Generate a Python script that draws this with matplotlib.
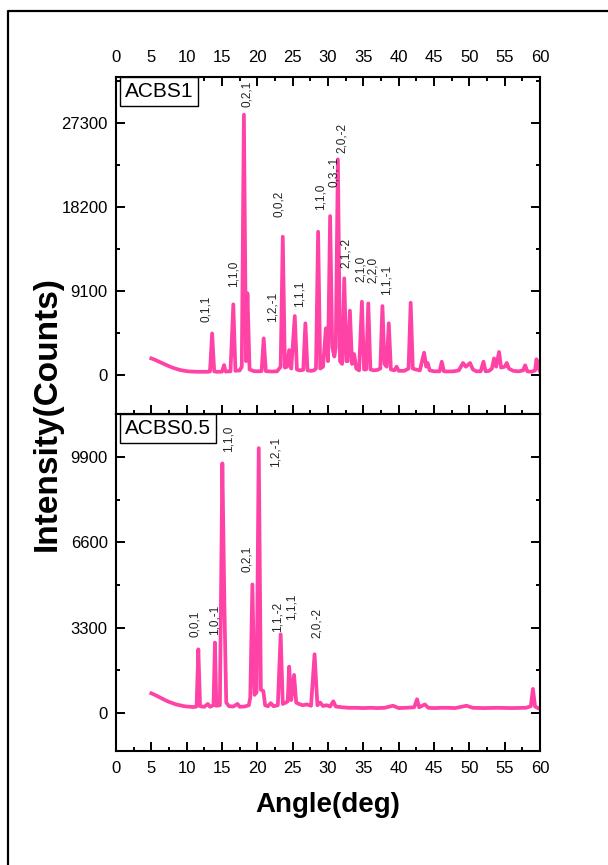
import matplotlib
matplotlib.use("Agg")
import matplotlib.pyplot as plt
from matplotlib.ticker import MultipleLocator
from matplotlib.lines import Line2D

plt.rcParams['font.family'] = ['Liberation Sans', 'DejaVu Sans']

# ---- ACBS1 diffraction trace (2-theta in degrees, counts) ----
acbs1_angle = [
    5.0, 5.5, 6.0, 6.5, 7.0, 7.5, 8.0, 8.5, 9.0, 9.5, 10.0, 10.5, 11.0, 11.5, 12.0, 12.5,
    13.0, 13.3, 13.6, 13.9, 14.3, 15.0, 15.3, 15.5, 16.2, 16.6, 16.9, 17.5, 17.8, 18.1,
    18.4, 18.6, 18.9, 19.5, 20.0, 20.6, 20.9, 21.2, 22.0, 22.8, 23.3, 23.6, 23.9, 24.2,
    24.5, 24.8, 25.3, 25.6, 26.0, 26.5, 26.8, 27.1, 27.6, 28.0, 28.3, 28.6, 28.9, 29.3,
    29.7, 30.0, 30.3, 30.6, 30.9, 31.1, 31.4, 31.7, 32.0, 32.3, 32.6, 32.8, 33.1, 33.4,
    33.7, 34.0, 34.4, 34.8, 35.1, 35.4, 35.7, 36.0, 36.5, 37.0, 37.4, 37.7, 38.0, 38.3,
    38.6, 38.9, 39.4, 39.7, 40.0, 40.8, 41.4, 41.7, 42.0, 42.4, 43.0, 43.6, 43.9, 44.1,
    44.4, 45.0, 45.8, 46.1, 46.4, 47.0, 47.8, 48.5, 49.1, 49.5, 50.1, 50.5, 51.0, 51.6,
    52.0, 52.3, 52.8, 53.2, 53.5, 53.8, 54.2, 54.5, 55.0, 55.3, 55.6, 56.2, 57.0, 57.6,
    57.9, 58.2, 58.8, 59.3, 59.5, 59.8, 60.0]
acbs1_counts = [
    1800, 1650, 1480, 1300, 1120, 950, 800, 670, 560, 480, 420, 380, 360, 350, 350, 340,
    350, 380, 4500, 380, 350, 360, 1080, 380, 400, 7650, 450, 500, 900, 28200,
    1500, 8850, 600, 420, 400, 420, 3970, 420, 380, 400, 900, 14980, 800, 900,
    2700, 700, 6390, 600, 500, 560, 5600, 500, 450, 500, 700, 15520, 700, 900,
    5060, 1500, 17220, 3000, 2000, 3000, 23360, 1500, 1200, 10470, 1500, 1500, 6970, 1200,
    2270, 700, 500, 7940, 600, 600, 7760, 600, 500, 550, 700, 7470, 1200, 900,
    5600, 600, 500, 900, 450, 450, 700, 7830, 700, 600, 500, 2420, 900, 1300,
    500, 400, 400, 1440, 400, 380, 400, 500, 1300, 900, 1300, 600, 400, 400,
    1440, 400, 450, 700, 1800, 900, 2500, 800, 900, 1300, 700, 450, 400, 500,
    1050, 400, 350, 500, 1700, 700, 400]

# ---- ACBS0.5 diffraction trace ----
acbs05_angle = [
    5.0, 5.5, 6.0, 6.5, 7.0, 7.5, 8.0, 8.5, 9.0, 9.5, 10.0, 10.5, 11.0, 11.4, 11.65, 11.9,
    12.5, 13.0, 13.3, 13.8, 14.0, 14.2, 14.7, 15.05, 15.35, 15.6, 16.0, 16.6, 17.2, 17.5,
    18.2, 18.8, 19.0, 19.3, 19.6, 19.9, 20.2, 20.5, 20.85, 21.1, 21.5, 21.9, 22.3, 22.9,
    23.3, 23.6, 24.0, 24.3, 24.5, 24.8, 25.2, 25.5, 25.9, 26.4, 27.0, 27.6, 28.1, 28.5,
    28.9, 29.3, 29.8, 30.3, 30.75, 31.1, 32.0, 33.0, 34.0, 35.0, 36.0, 37.0, 38.0, 39.2,
    40.0, 41.0, 42.2, 42.6, 42.9, 43.7, 44.2, 45.0, 46.0, 47.0, 48.0, 49.6, 50.5, 52.0,
    54.0, 56.0, 58.0, 58.7, 59.0, 59.3, 60.0]
acbs05_counts = [
    760, 700, 630, 560, 490, 430, 380, 330, 300, 270, 250, 240, 230, 250, 2460, 260,
    240, 350, 240, 300, 2720, 280, 300, 9650, 4000, 400, 260, 250, 350, 240,
    250, 300, 600, 4970, 700, 800, 10240, 900, 850, 300, 260, 380, 260, 300,
    3040, 350, 400, 450, 1790, 500, 1470, 400, 350, 300, 330, 280, 2270, 300,
    400, 270, 300, 250, 450, 250, 220, 200, 200, 190, 200, 190, 200, 280,
    190, 200, 220, 530, 220, 330, 200, 190, 200, 200, 190, 280, 200, 190,
    200, 190, 200, 260, 930, 250, 150]

# ---- reflection labels: (text, angle, counts at text base) ----
acbs1_hkl = ["0,1,1", "1,1,0", "0,2,1", "1,2,-1", "0,0,2", "1,1,1",
             "1,1,0", "0,3,-1", "2,0,-2", "2,1,-2", "2,1,0", "2,2,0", "1,1,-1"]
acbs1_hkl_angle = [12.8, 16.7, 18.5, 22.1, 23.0, 26.0,
                   29.0, 30.9, 32.0, 32.6, 34.7, 36.3, 38.3]
acbs1_hkl_counts = [5700, 9500, 29000, 5700, 17100, 7350,
                    17850, 20350, 24000, 11600, 10050, 9950, 8650]

acbs05_hkl = ["0,0,1", "1,0,-1", "1,1,0", "0,2,1", "1,2,-1", "1,1,-2", "1,1,1", "2,0,-2"]
acbs05_hkl_angle = [11.2, 13.9, 15.9, 18.5, 22.6, 22.8, 24.8, 28.5]
acbs05_hkl_counts = [2940, 3020, 10090, 5450, 9510, 3130, 3600, 2900]

x_ticks = list(range(0, 65, 5))
acbs1_yticks = [0, 9100, 18200, 27300]
acbs05_yticks = [0, 3300, 6600, 9900]

LINE_COLOR = '#FF42A6'
W, H = 608, 865

fig = plt.figure(figsize=(W / 100, H / 100), dpi=100)
left, width = 116 / W, 424 / W
ax1 = fig.add_axes([left, 1 - 414 / H, width, 337 / H])
ax2 = fig.add_axes([left, 1 - 751 / H, width, 337 / H])

panels = [
    (ax1, acbs1_angle, acbs1_counts, acbs1_hkl, acbs1_hkl_angle, acbs1_hkl_counts,
     acbs1_yticks, (-4225, 32285), 4550, 'ACBS1'),
    (ax2, acbs05_angle, acbs05_counts, acbs05_hkl, acbs05_hkl_angle, acbs05_hkl_counts,
     acbs05_yticks, (-1470, 11560), 1650, 'ACBS0.5'),
]

for ax, xs, ys, hkl, hx, hy, yt, ylim, yminor, name in panels:
    ax.plot(xs, ys, color=LINE_COLOR, lw=2.7, solid_joinstyle='round')
    ax.set_xlim(0, 60)
    ax.set_ylim(*ylim)
    ax.set_xticks(x_ticks)
    ax.xaxis.set_minor_locator(MultipleLocator(2.5))
    ax.set_yticks(yt)
    ax.yaxis.set_minor_locator(MultipleLocator(yminor))
    for sp in ax.spines.values():
        sp.set_linewidth(1.5)
    ax.tick_params(which='both', direction='in', width=1.4, labelsize=12,
                   left=True, right=True, labelright=False)
    ax.tick_params(which='major', length=6.5)
    ax.tick_params(which='minor', length=3)
    ax.tick_params(axis='y', pad=6)
    for t, a, c in zip(hkl, hx, hy):
        ax.text(a, c, t, rotation=90, ha='center', va='bottom',
                fontsize=8.5, color='#222222')
    ax.text(9 / 424, 1 - 5 / 337, name, transform=ax.transAxes, ha='left', va='top',
            fontsize=15,
            bbox=dict(boxstyle='square,pad=0.22', fc='white', ec='black', lw=1.0))

ax1.tick_params(axis='x', which='both', top=True, bottom=True,
                labeltop=True, labelbottom=False, pad=9)
ax2.tick_params(axis='x', which='both', top=False, bottom=True,
                labeltop=False, labelbottom=True, pad=7)

fig.text(47 / W, 1 - 414 / H, 'Intensity(Counts)', rotation=90, ha='center',
         va='center', fontsize=24, fontweight='bold')
fig.text(328 / W, 1 - 805 / H, 'Angle(deg)', ha='center', va='center',
         fontsize=20, fontweight='bold')

# outer frame (left and top edges)
fig.add_artist(Line2D([8 / W, 8 / W, 1.0], [0.0, 1 - 11 / H, 1 - 11 / H],
                      transform=fig.transFigure, color='black', lw=1.6))

fig.savefig('out.png', dpi=100)
